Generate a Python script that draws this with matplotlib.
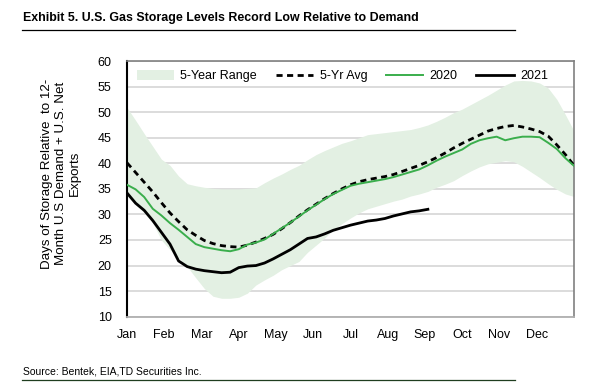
import numpy as np
import matplotlib
matplotlib.use("Agg")
import matplotlib.pyplot as plt
from matplotlib.lines import Line2D

plt.rcParams['font.family'] = ['Liberation Sans', 'DejaVu Sans']

months = ["Jan", "Feb", "Mar", "Apr", "May", "Jun", "Jul", "Aug", "Sep", "Oct", "Nov", "Dec"]
weeks = list(range(53))

range_high = [50.9, 48.4, 45.8, 43.3, 40.8, 39.6, 37.5, 36.0, 35.6, 35.3, 35.1, 35.0, 35.0,
              35.0, 35.1, 35.2, 36.2, 37.1, 37.9, 38.8, 39.6, 40.7, 41.7, 42.5, 43.2, 43.9,
              44.4, 45.0, 45.6, 45.8, 46.0, 46.2, 46.4, 46.6, 47.0, 47.5, 48.2, 49.0, 49.9,
              50.6, 51.5, 52.4, 53.3, 54.3, 55.3, 56.1, 56.2, 56.1, 55.7, 54.7, 52.5, 49.5, 46.3]
range_low = [33.6, 32.0, 30.3, 28.3, 25.0, 23.1, 21.5, 19.8, 17.6, 15.5, 14.0, 13.6, 13.6,
             13.8, 14.6, 16.2, 17.2, 18.1, 19.2, 20.0, 20.8, 22.6, 24.0, 25.4, 27.0, 28.2,
             29.3, 30.3, 31.1, 31.6, 32.1, 32.6, 33.0, 33.6, 34.0, 34.5, 35.3, 35.9, 36.6,
             37.6, 38.5, 39.3, 39.9, 40.2, 40.5, 40.3, 39.4, 38.3, 37.2, 36.0, 34.9, 34.0, 33.5]
avg_5yr = [40.1, 38.2, 36.3, 34.4, 32.3, 30.3, 28.6, 27.0, 25.9, 24.9, 24.3, 23.9, 23.7,
           23.6, 24.0, 24.6, 25.3, 26.1, 27.2, 28.4, 29.7, 30.9, 32.0, 33.1, 34.1, 35.0,
           35.8, 36.4, 36.8, 37.1, 37.4, 37.8, 38.4, 39.0, 39.6, 40.3, 41.1, 42.0, 43.0,
           43.9, 44.7, 45.5, 46.3, 46.8, 47.2, 47.4, 47.1, 46.7, 46.2, 45.3, 43.6, 41.7, 39.6]
y2020 = [35.8, 34.9, 33.4, 31.1, 29.8, 28.3, 27.0, 25.6, 24.2, 23.6, 23.3, 23.0, 22.8,
         23.2, 24.1, 24.5, 25.1, 26.2, 27.3, 28.4, 29.6, 30.8, 31.9, 33.0, 34.0, 34.8,
         35.6, 36.0, 36.3, 36.6, 36.9, 37.3, 37.8, 38.3, 38.8, 39.6, 40.5, 41.3, 42.0,
         42.7, 43.8, 44.5, 44.9, 45.2, 44.5, 44.9, 45.2, 45.2, 45.1, 44.0, 42.8, 41.0, 39.5]
y2021 = [34.2, 32.2, 30.8, 28.8, 26.5, 24.2, 20.9, 19.8, 19.3, 19.0, 18.8, 18.6, 18.7,
         19.6, 19.9, 20.0, 20.5, 21.3, 22.2, 23.1, 24.2, 25.3, 25.6, 26.2, 26.9, 27.4,
         27.9, 28.3, 28.7, 28.9, 29.2, 29.7, 30.1, 30.5, 30.7, 31.0]

yticks = list(range(10, 61, 5))

fig = plt.figure(figsize=(6.11, 3.85), dpi=100)
ax = fig.add_axes([127/611, 1 - 316.7/385, (574 - 127)/611, (316.7 - 61)/385])

band_color = '#e3f0e3'
green = '#3aae4c'

ax.fill_between(weeks, range_low, range_high, color=band_color, lw=0, zorder=1)
ax.plot(weeks, avg_5yr, color='black', lw=2.0, ls=(0, (2.2, 1.6)), zorder=3)
ax.plot(weeks, y2020, color=green, lw=1.4, zorder=4)
ax.plot(weeks[:len(y2021)], y2021, color='black', lw=2.0, zorder=5)

ax.set_xlim(0, 52)
ax.set_ylim(10, 60)
ax.set_yticks(yticks)
ax.set_xticks([i * 52 / 12 for i in range(12)])
ax.set_xticklabels(months)
ax.tick_params(axis='both', length=0, labelsize=9, colors='black')
ax.tick_params(axis='y', pad=11)
ax.tick_params(axis='x', pad=9)
ax.yaxis.grid(True, color='#d9d9d9', lw=1.3, zorder=0)
ax.set_axisbelow(True)

for s in ['top', 'right']:
    ax.spines[s].set_color('#808080')
    ax.spines[s].set_linewidth(1.2)
ax.spines['bottom'].set_color('#b0b0b0')
ax.spines['bottom'].set_linewidth(1.3)
ax.spines['left'].set_color('black')
ax.spines['left'].set_linewidth(1.5)

ax.set_ylabel("Days of Storage Relative  to 12-\nMonth U.S Demand + U.S. Net\nExports",
              fontsize=9.6, linespacing=1.2)
ax.yaxis.set_label_coords(-0.103, 0.56)

handles = [
    plt.Rectangle((0, 0), 1, 1, facecolor=band_color, edgecolor='none'),
    Line2D([], [], color='black', lw=2.0, ls=(0, (2.2, 1.6))),
    Line2D([], [], color=green, lw=1.4),
    Line2D([], [], color='black', lw=2.0),
]
labels = ["5-Year Range", "5-Yr Avg", "2020", "2021"]
leg = ax.legend(handles, labels, loc='upper center', bbox_to_anchor=(0.482, 1.0), ncol=4,
                frameon=False, fontsize=9, handlelength=3.0, handleheight=0.9,
                columnspacing=1.5, handletextpad=0.5, borderaxespad=0.3)
leg.set_zorder(10)

fig.text(23/611, 1 - 18/385, "Exhibit 5. U.S. Gas Storage Levels Record Low Relative to Demand",
         fontsize=8.9, fontweight='bold', ha='left', va='center')
fig.add_artist(Line2D([22/611, 515/611], [1 - 30/385, 1 - 30/385], color='black', lw=0.9))
fig.text(23/611, 1 - 372/385, "Source: Bentek, EIA,TD Securities Inc.",
         fontsize=7.5, ha='left', va='center')
fig.add_artist(Line2D([22/611, 515/611], [1 - 379.5/385, 1 - 379.5/385], color='#1f3d1f', lw=0.9))

fig.savefig("out.png", dpi=100)
